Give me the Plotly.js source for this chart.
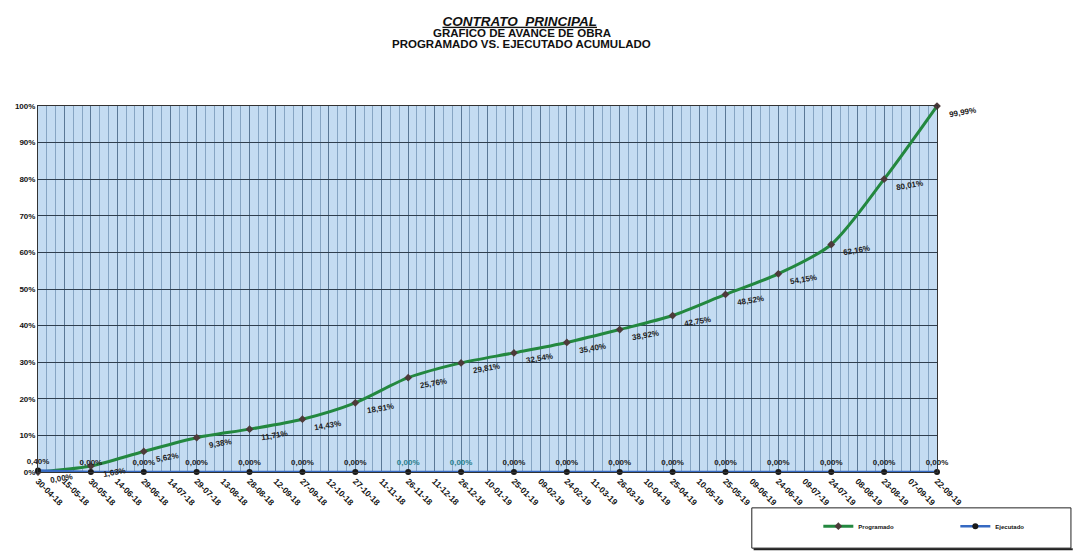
<!DOCTYPE html>
<html>
<head>
<meta charset="utf-8">
<script src="https://cdn.plot.ly/plotly-3.0.1.min.js"></script>
<style>
html,body{margin:0;padding:0;background:#fff;}
#chart{width:1076px;height:552px;}
</style>
</head>
<body>
<div id="chart"></div>
<script>
// Tick labels on the x axis (every 15 days)
const categories = ["30-04-18","15-05-18","30-05-18","14-06-18","29-06-18","14-07-18","29-07-18","13-08-18","28-08-18","12-09-18","27-09-18","12-10-18","27-10-18","11-11-18","26-11-18","11-12-18","26-12-18","10-01-19","25-01-19","09-02-19","24-02-19","11-03-19","26-03-19","10-04-19","25-04-19","10-05-19","25-05-19","09-06-19","24-06-19","09-07-19","24-07-19","08-08-19","23-08-19","07-09-19","22-09-19"];
// Dates where values are recorded (every 30 days)
const pointDates = ["30-04-18","30-05-18","29-06-18","29-07-18","28-08-18","27-09-18","27-10-18","26-11-18","26-12-18","25-01-19","24-02-19","26-03-19","25-04-19","25-05-19","24-06-19","24-07-19","23-08-19","22-09-19"];
// Programado acumulado (%)
const programado = [0.00,1.63,5.62,9.38,11.71,14.43,18.91,25.76,29.81,32.54,35.40,38.92,42.75,48.52,54.15,62.16,80.01,99.99];
// Ejecutado acumulado (%)
const ejecutado = [0.40,0.00,0.00,0.00,0.00,0.00,0.00,0.00,0.00,0.00,0.00,0.00,0.00,0.00,0.00,0.00,0.00,0.00];
const ejecutadoLabelColors = ["#222","#222","#222","#222","#222","#222","#222","#2b7f8c","#2b7f8c","#222","#222","#222","#222","#222","#222","#222","#222","#222"];
const yTicks = [0,10,20,30,40,50,60,70,80,90,100];
const titleLines = ["CONTRATO  PRINCIPAL","GRAFICO DE AVANCE DE OBRA","PROGRAMADO VS. EJECUTADO ACUMULADO"];

const fmt = v => v.toFixed(2).replace('.', ',') + '%';
const xIdx = pointDates.map(d => categories.indexOf(d));

const FONT = "Liberation Sans, Arial, sans-serif";

const traces = [
  {
    x: xIdx, y: programado, name: "Programado", type: "scatter", mode: "lines+markers",
    line: {color: "#23883f", width: 3, shape: "spline", smoothing: 0.8},
    marker: {color: "#4d3a3a", size: 6, symbol: "diamond"},
    cliponaxis: false, hoverinfo: "skip"
  },
  {
    x: xIdx, y: ejecutado, name: "Ejecutado", type: "scatter", mode: "lines+markers+text",
    line: {color: "#3569c2", width: 2.5},
    marker: {color: "#1a1a1a", size: 6},
    text: ejecutado.map(fmt), textposition: "top center",
    textfont: {family: FONT, size: 8, color: ejecutadoLabelColors, weight: "bold"},
    cliponaxis: false, hoverinfo: "skip"
  }
];

const annotations = programado.map((v, i) => ({
  x: xIdx[i], y: v, xref: "x", yref: "y", text: "<b>" + fmt(v) + "</b>",
  showarrow: false, xanchor: "left", yanchor: "middle",
  xshift: 9, yshift: -6, textangle: -10,
  font: {family: FONT, size: 8, color: "#222"}
}));
annotations.push(
  {xref: "paper", yref: "paper", x: 0.538, y: 1 + (106 - 33) / 366, text: "<b>" + titleLines[1] + "</b>",
   showarrow: false, xanchor: "center", yanchor: "middle", font: {family: FONT, size: 11.5, color: "#111"}},
  {xref: "paper", yref: "paper", x: 0.538, y: 1 + (106 - 44) / 366, text: "<b>" + titleLines[2] + "</b>",
   showarrow: false, xanchor: "center", yanchor: "middle", font: {family: FONT, size: 11.5, color: "#111"}}
);

const layout = {
  width: 1076, height: 552,
  margin: {l: 38, r: 139, t: 106, b: 80, autoexpand: false},
  paper_bgcolor: "#ffffff",
  plot_bgcolor: "#c4dcf2",
  showlegend: true,
  title: {
    text: "<b><i><u>" + titleLines[0] + "</u></i></b>",
    x: 0.483, xref: "container", xanchor: "center",
    y: 1 - 21 / 552, yref: "container", yanchor: "middle",
    font: {family: FONT, size: 13.5, color: "#111"}
  },
  xaxis: {
    type: "linear", range: [0, categories.length - 1],
    tickmode: "array", tickvals: categories.map((c, i) => i), ticktext: categories,
    tickangle: 45, tickfont: {family: FONT, size: 8.5, color: "#111", weight: "bold"},
    showgrid: true, gridcolor: "#5a7896", gridwidth: 1,
    minor: {dtick: 1/3, tick0: 0, showgrid: true, gridcolor: "#86a5c3", gridwidth: 1},
    showline: true, linecolor: "#333", linewidth: 1, mirror: true,
    zeroline: false, ticks: "", fixedrange: true
  },
  yaxis: {
    range: [0, 100], tickmode: "array", tickvals: yTicks, ticktext: yTicks.map(t => t + "%"),
    tickfont: {family: FONT, size: 8, color: "#111", weight: "bold"},
    showgrid: true, gridcolor: "#2f3f4f", gridwidth: 1,
    showline: true, linecolor: "#333", linewidth: 1, mirror: true,
    zeroline: false, ticks: "", fixedrange: true
  },
  legend: {
    orientation: "h", x: 0.868, y: -0.148, xanchor: "left", yanchor: "middle",
    xref: "paper", yref: "paper",
    font: {family: FONT, size: 6, color: "#111", weight: "bold"},
    bgcolor: "rgba(0,0,0,0)", borderwidth: 0, entrywidth: 92, itemwidth: 30
  },
  shapes: [
    {type: "rect", xref: "paper", yref: "paper", x0: 0.794, x1: 1.149, y0: -0.098, y1: -0.208,
     line: {color: "#222", width: 1}, fillcolor: "rgba(255,255,255,0)"},
    {type: "line", xref: "paper", yref: "paper", x0: 0.796, x1: 1.151, y0: -0.211, y1: -0.211,
     line: {color: "#222", width: 2}}
  ],
  annotations: annotations
};

Plotly.newPlot("chart", traces, layout, {displayModeBar: false, staticPlot: true});
</script>
</body>
</html>
